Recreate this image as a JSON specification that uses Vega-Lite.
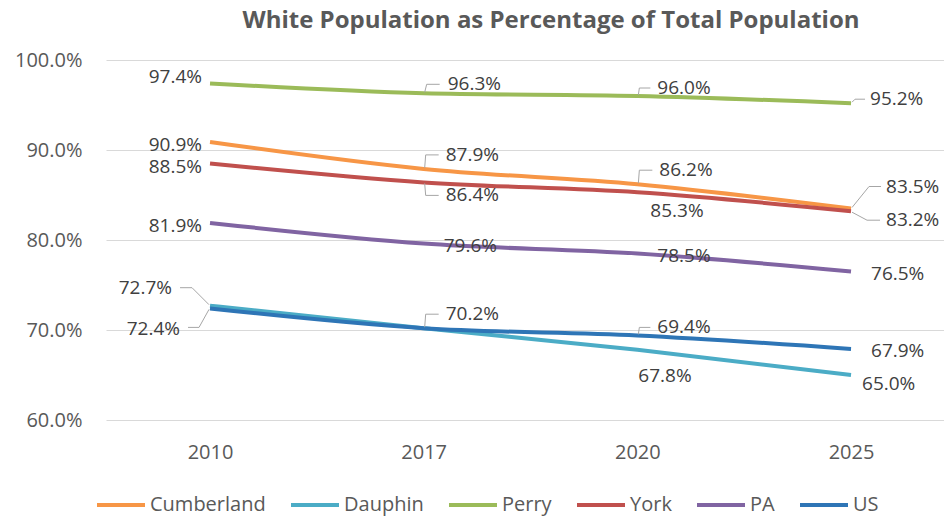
{
  "$schema": "https://vega.github.io/schema/vega-lite/v6.json",
  "width": 838,
  "height": 360,
  "autosize": {"type": "none"},
  "padding": {"left": 106, "top": 60, "right": 0, "bottom": 98},
  "config": {"view": {"stroke": null}, "font": "Open Sans"},
  "title": {"text": "White Population as Percentage of Total Population", "font": "Open Sans", "fontSize": 24, "fontWeight": "bold", "color": "#595959", "anchor": "middle", "frame": "group", "dx": 26, "offset": -2, "baseline": "alphabetic"},
  "data": {"values": [
    {"series": "Cumberland", "year": "2010", "value": 0.909},
    {"series": "Cumberland", "year": "2017", "value": 0.879},
    {"series": "Cumberland", "year": "2020", "value": 0.862},
    {"series": "Cumberland", "year": "2025", "value": 0.835},
    {"series": "Dauphin", "year": "2010", "value": 0.727},
    {"series": "Dauphin", "year": "2017", "value": 0.702},
    {"series": "Dauphin", "year": "2020", "value": 0.678},
    {"series": "Dauphin", "year": "2025", "value": 0.650},
    {"series": "Perry", "year": "2010", "value": 0.974},
    {"series": "Perry", "year": "2017", "value": 0.963},
    {"series": "Perry", "year": "2020", "value": 0.960},
    {"series": "Perry", "year": "2025", "value": 0.952},
    {"series": "York", "year": "2010", "value": 0.885},
    {"series": "York", "year": "2017", "value": 0.864},
    {"series": "York", "year": "2020", "value": 0.853},
    {"series": "York", "year": "2025", "value": 0.832},
    {"series": "PA", "year": "2010", "value": 0.819},
    {"series": "PA", "year": "2017", "value": 0.796},
    {"series": "PA", "year": "2020", "value": 0.785},
    {"series": "PA", "year": "2025", "value": 0.765},
    {"series": "US", "year": "2010", "value": 0.724},
    {"series": "US", "year": "2017", "value": 0.702},
    {"series": "US", "year": "2020", "value": 0.694},
    {"series": "US", "year": "2025", "value": 0.679}
  ]},
  "transform": [{"calculate": "datum.series + '-' + datum.year", "as": "key"}],
  "encoding": {
    "x": {"field": "year", "type": "ordinal", "scale": {"type": "point", "padding": 0.461, "align": 0.528},
      "axis": {"title": null, "labelAngle": 0, "labelFontSize": 20, "labelColor": "#595959", "labelPadding": 22, "ticks": false, "domain": false, "grid": false}},
    "y": {"field": "value", "type": "quantitative", "scale": {"domain": [0.6, 1.0], "nice": false, "zero": false},
      "axis": {"title": null, "values": [0.6, 0.7, 0.8, 0.9, 1.0], "format": ".1%", "labelFontSize": 20, "labelColor": "#595959", "labelPadding": 24, "ticks": false, "domain": false, "gridColor": "#D9D9D9", "gridWidth": 1}}
  },
  "layer": [
    {"mark": {"type": "line", "strokeWidth": 4, "interpolate": "monotone"},
     "encoding": {"color": {"field": "series", "type": "nominal",
       "scale": {"domain": ["Cumberland", "Dauphin", "Perry", "York", "PA", "US"], "range": ["#F79646", "#4BACC6", "#9BBB59", "#C0504D", "#8064A2", "#2E75B6"]},
       "legend": {"title": null, "orient": "none", "legendX": -11, "legendY": 419, "direction": "horizontal", "columns": 6, "symbolType": "stroke", "symbolSize": 2304, "symbolStrokeWidth": 4, "labelFontSize": 20, "labelColor": "#595959", "labelOffset": 3, "columnPadding": 17}}}},

    {"transform": [{"filter": {"field": "key", "oneOf": ["Perry-2017"]}}], "mark": {"type": "rule", "color": "#A6A6A6", "strokeWidth": 1, "xOffset": 1, "yOffset": -1, "x2Offset": 3, "y2Offset": -9}, "encoding": {"x2": {"field": "year"}, "y2": {"field": "value"}}},
    {"transform": [{"filter": {"field": "key", "oneOf": ["Perry-2017"]}}], "mark": {"type": "rule", "color": "#A6A6A6", "strokeWidth": 1, "xOffset": 3, "yOffset": -9, "x2Offset": 16, "y2Offset": -9}, "encoding": {"x2": {"field": "year"}, "y2": {"field": "value"}}},
    {"transform": [{"filter": {"field": "key", "oneOf": ["Cumberland-2017", "US-2017", "Cumberland-2020"]}}], "mark": {"type": "rule", "color": "#A6A6A6", "strokeWidth": 1, "xOffset": 1, "yOffset": -1, "x2Offset": 2, "y2Offset": -14}, "encoding": {"x2": {"field": "year"}, "y2": {"field": "value"}}},
    {"transform": [{"filter": {"field": "key", "oneOf": ["Cumberland-2017", "US-2017", "Cumberland-2020"]}}], "mark": {"type": "rule", "color": "#A6A6A6", "strokeWidth": 1, "xOffset": 2, "yOffset": -14, "x2Offset": 15, "y2Offset": -14}, "encoding": {"x2": {"field": "year"}, "y2": {"field": "value"}}},
    {"transform": [{"filter": {"field": "key", "oneOf": ["York-2017"]}}], "mark": {"type": "rule", "color": "#A6A6A6", "strokeWidth": 1, "xOffset": 1, "yOffset": 1, "x2Offset": 2, "y2Offset": 13}, "encoding": {"x2": {"field": "year"}, "y2": {"field": "value"}}},
    {"transform": [{"filter": {"field": "key", "oneOf": ["York-2017"]}}], "mark": {"type": "rule", "color": "#A6A6A6", "strokeWidth": 1, "xOffset": 2, "yOffset": 13, "x2Offset": 15, "y2Offset": 13}, "encoding": {"x2": {"field": "year"}, "y2": {"field": "value"}}},
    {"transform": [{"filter": {"field": "key", "oneOf": ["Perry-2020", "US-2020"]}}], "mark": {"type": "rule", "color": "#A6A6A6", "strokeWidth": 1, "xOffset": 1, "yOffset": -1, "x2Offset": 2, "y2Offset": -8}, "encoding": {"x2": {"field": "year"}, "y2": {"field": "value"}}},
    {"transform": [{"filter": {"field": "key", "oneOf": ["Perry-2020", "US-2020"]}}], "mark": {"type": "rule", "color": "#A6A6A6", "strokeWidth": 1, "xOffset": 2, "yOffset": -8, "x2Offset": 13, "y2Offset": -8}, "encoding": {"x2": {"field": "year"}, "y2": {"field": "value"}}},
    {"transform": [{"filter": {"field": "key", "oneOf": ["Perry-2025"]}}], "mark": {"type": "rule", "color": "#A6A6A6", "strokeWidth": 1, "xOffset": 1, "yOffset": -1, "x2Offset": 4, "y2Offset": -4}, "encoding": {"x2": {"field": "year"}, "y2": {"field": "value"}}},
    {"transform": [{"filter": {"field": "key", "oneOf": ["Perry-2025"]}}], "mark": {"type": "rule", "color": "#A6A6A6", "strokeWidth": 1, "xOffset": 4, "yOffset": -4, "x2Offset": 14, "y2Offset": -4}, "encoding": {"x2": {"field": "year"}, "y2": {"field": "value"}}},
    {"transform": [{"filter": {"field": "key", "oneOf": ["Cumberland-2025"]}}], "mark": {"type": "rule", "color": "#A6A6A6", "strokeWidth": 1, "xOffset": 1, "yOffset": -1, "x2Offset": 18, "y2Offset": -22}, "encoding": {"x2": {"field": "year"}, "y2": {"field": "value"}}},
    {"transform": [{"filter": {"field": "key", "oneOf": ["Cumberland-2025"]}}], "mark": {"type": "rule", "color": "#A6A6A6", "strokeWidth": 1, "xOffset": 18, "yOffset": -22, "x2Offset": 30, "y2Offset": -22}, "encoding": {"x2": {"field": "year"}, "y2": {"field": "value"}}},
    {"transform": [{"filter": {"field": "key", "oneOf": ["York-2025"]}}], "mark": {"type": "rule", "color": "#A6A6A6", "strokeWidth": 1, "xOffset": 1, "yOffset": 1, "x2Offset": 16, "y2Offset": 9}, "encoding": {"x2": {"field": "year"}, "y2": {"field": "value"}}},
    {"transform": [{"filter": {"field": "key", "oneOf": ["York-2025"]}}], "mark": {"type": "rule", "color": "#A6A6A6", "strokeWidth": 1, "xOffset": 16, "yOffset": 9, "x2Offset": 29, "y2Offset": 9}, "encoding": {"x2": {"field": "year"}, "y2": {"field": "value"}}},
    {"transform": [{"filter": {"field": "key", "oneOf": ["Dauphin-2010"]}}], "mark": {"type": "rule", "color": "#A6A6A6", "strokeWidth": 1, "xOffset": -1, "yOffset": -1, "x2Offset": -18, "y2Offset": -18}, "encoding": {"x2": {"field": "year"}, "y2": {"field": "value"}}},
    {"transform": [{"filter": {"field": "key", "oneOf": ["Dauphin-2010"]}}], "mark": {"type": "rule", "color": "#A6A6A6", "strokeWidth": 1, "xOffset": -18, "yOffset": -18, "x2Offset": -30, "y2Offset": -18}, "encoding": {"x2": {"field": "year"}, "y2": {"field": "value"}}},
    {"transform": [{"filter": {"field": "key", "oneOf": ["US-2010"]}}], "mark": {"type": "rule", "color": "#A6A6A6", "strokeWidth": 1, "xOffset": -1, "yOffset": 1, "x2Offset": -11, "y2Offset": 19}, "encoding": {"x2": {"field": "year"}, "y2": {"field": "value"}}},
    {"transform": [{"filter": {"field": "key", "oneOf": ["US-2010"]}}], "mark": {"type": "rule", "color": "#A6A6A6", "strokeWidth": 1, "xOffset": -11, "yOffset": 19, "x2Offset": -22, "y2Offset": 19}, "encoding": {"x2": {"field": "year"}, "y2": {"field": "value"}}},

    {"transform": [{"filter": {"field": "key", "oneOf": ["Perry-2010"]}}], "mark": {"type": "text", "align": "right", "baseline": "middle", "dx": -8, "dy": -6, "fontSize": 19, "color": "#404040"}, "encoding": {"text": {"field": "value", "format": ".1%"}}},
    {"transform": [{"filter": {"field": "key", "oneOf": ["Cumberland-2010", "York-2010", "PA-2010"]}}], "mark": {"type": "text", "align": "right", "baseline": "middle", "dx": -8, "dy": 3, "fontSize": 19, "color": "#404040"}, "encoding": {"text": {"field": "value", "format": ".1%"}}},
    {"transform": [{"filter": {"field": "key", "oneOf": ["Dauphin-2010"]}}], "mark": {"type": "text", "align": "right", "baseline": "middle", "dx": -38, "dy": -18, "fontSize": 19, "color": "#404040"}, "encoding": {"text": {"field": "value", "format": ".1%"}}},
    {"transform": [{"filter": {"field": "key", "oneOf": ["US-2010"]}}], "mark": {"type": "text", "align": "right", "baseline": "middle", "dx": -30, "dy": 21, "fontSize": 19, "color": "#404040"}, "encoding": {"text": {"field": "value", "format": ".1%"}}},
    {"transform": [{"filter": {"field": "key", "oneOf": ["Perry-2017"]}}], "mark": {"type": "text", "align": "left", "baseline": "middle", "dx": 24, "dy": -9, "fontSize": 19, "color": "#404040"}, "encoding": {"text": {"field": "value", "format": ".1%"}}},
    {"transform": [{"filter": {"field": "key", "oneOf": ["Cumberland-2017", "US-2017", "Cumberland-2020"]}}], "mark": {"type": "text", "align": "left", "baseline": "middle", "dx": 22, "dy": -14, "fontSize": 19, "color": "#404040"}, "encoding": {"text": {"field": "value", "format": ".1%"}}},
    {"transform": [{"filter": {"field": "key", "oneOf": ["York-2017"]}}], "mark": {"type": "text", "align": "left", "baseline": "middle", "dx": 22, "dy": 13, "fontSize": 19, "color": "#404040"}, "encoding": {"text": {"field": "value", "format": ".1%"}}},
    {"transform": [{"filter": {"field": "key", "oneOf": ["PA-2017", "PA-2020", "PA-2025", "US-2025"]}}], "mark": {"type": "text", "align": "left", "baseline": "middle", "dx": 20, "dy": 2, "fontSize": 19, "color": "#404040"}, "encoding": {"text": {"field": "value", "format": ".1%"}}},
    {"transform": [{"filter": {"field": "key", "oneOf": ["Perry-2020", "US-2020"]}}], "mark": {"type": "text", "align": "left", "baseline": "middle", "dx": 20, "dy": -8, "fontSize": 19, "color": "#404040"}, "encoding": {"text": {"field": "value", "format": ".1%"}}},
    {"transform": [{"filter": {"field": "key", "oneOf": ["York-2020"]}}], "mark": {"type": "text", "align": "left", "baseline": "middle", "dx": 13, "dy": 19, "fontSize": 19, "color": "#404040"}, "encoding": {"text": {"field": "value", "format": ".1%"}}},
    {"transform": [{"filter": {"field": "key", "oneOf": ["Dauphin-2020"]}}], "mark": {"type": "text", "align": "left", "baseline": "middle", "dx": 1, "dy": 26, "fontSize": 19, "color": "#404040"}, "encoding": {"text": {"field": "value", "format": ".1%"}}},
    {"transform": [{"filter": {"field": "key", "oneOf": ["Perry-2025"]}}], "mark": {"type": "text", "align": "left", "baseline": "middle", "dx": 19, "dy": -4, "fontSize": 19, "color": "#404040"}, "encoding": {"text": {"field": "value", "format": ".1%"}}},
    {"transform": [{"filter": {"field": "key", "oneOf": ["Cumberland-2025"]}}], "mark": {"type": "text", "align": "left", "baseline": "middle", "dx": 35, "dy": -22, "fontSize": 19, "color": "#404040"}, "encoding": {"text": {"field": "value", "format": ".1%"}}},
    {"transform": [{"filter": {"field": "key", "oneOf": ["York-2025"]}}], "mark": {"type": "text", "align": "left", "baseline": "middle", "dx": 35, "dy": 9, "fontSize": 19, "color": "#404040"}, "encoding": {"text": {"field": "value", "format": ".1%"}}},
    {"transform": [{"filter": {"field": "key", "oneOf": ["Dauphin-2025"]}}], "mark": {"type": "text", "align": "left", "baseline": "middle", "dx": 11, "dy": 9, "fontSize": 19, "color": "#404040"}, "encoding": {"text": {"field": "value", "format": ".1%"}}}
  ]
}
